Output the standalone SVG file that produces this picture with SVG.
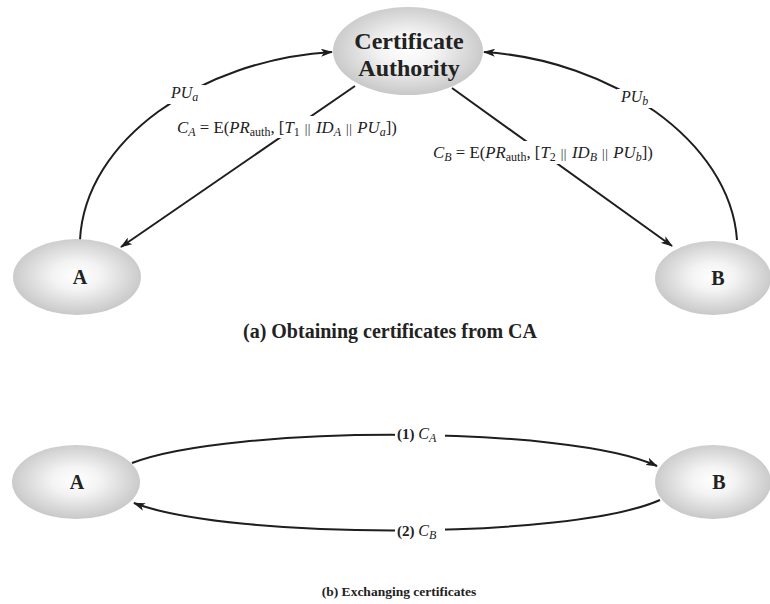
<svg xmlns="http://www.w3.org/2000/svg" width="770" height="604" viewBox="0 0 770 604">
<defs>
<radialGradient id="g" cx="50%" cy="48%" r="55%">
<stop offset="0" stop-color="#ffffff"/>
<stop offset="0.35" stop-color="#f3f3f3"/>
<stop offset="1" stop-color="#c4c4c4"/>
</radialGradient>
<marker id="ah" viewBox="0 0 12 8" refX="11" refY="4" markerWidth="12" markerHeight="8" markerUnits="userSpaceOnUse" orient="auto">
<path d="M0,0 L12,4 L0,8 L3,4 Z" fill="#1e1e1e"/>
</marker>
</defs>
<style>
.node{fill:url(#g);stroke:none}
.nt{font-family:"Liberation Serif","Times New Roman",serif;font-weight:bold;fill:#222;text-anchor:middle}
.ln{fill:none;stroke:#1e1e1e;stroke-width:2;marker-end:url(#ah)}
.lb{font-family:"Liberation Serif","Times New Roman",serif;font-size:16px;fill:#222}
.eq{font-size:16.8px}
.it{font-style:italic}
.s{font-size:12px}
.bar{font-size:13px;letter-spacing:0.5px}
.cap{font-family:"Liberation Serif","Times New Roman",serif;font-weight:bold;fill:#222;text-anchor:middle}
.bg{fill:#fff}
</style>
<rect width="770" height="604" fill="#fff"/>

<g id="connectors">
<path class="ln" d="M80,240 C85,140 200,60 332,52"/>
<path class="ln" d="M737,240 C730,140 610,60 484,52"/>
<path class="ln" d="M355,86 L121,247"/>
<path class="ln" d="M452,88 L672,246"/>
<path class="ln" d="M132,463 C230,425 570,425 657,466"/>
<path class="ln" d="M660,500 C570,540 230,540 134,503"/>
</g>

<g id="labels">
<rect class="bg" x="167" y="85" width="38" height="19"/>
<text class="lb" x="171" y="98"><tspan class="it">PU</tspan><tspan class="it s" dy="3">a</tspan></text>
<rect class="bg" x="617" y="89" width="42" height="19"/>
<text class="lb" x="621" y="102"><tspan class="it">PU</tspan><tspan class="it s" dy="3">b</tspan></text>

<rect class="bg" x="174" y="116" width="228" height="22"/>
<text class="lb eq" x="177" y="133"><tspan class="it">C</tspan><tspan class="it s" dy="3">A</tspan><tspan dy="-3"> = E(</tspan><tspan class="it">PR</tspan><tspan class="s" dy="3">auth</tspan><tspan dy="-3">, [</tspan><tspan class="it">T</tspan><tspan class="s" dy="3">1</tspan><tspan dy="-3" dx="5" class="bar">||</tspan><tspan dx="5" class="it">ID</tspan><tspan class="it s" dy="3">A</tspan><tspan dy="-3" dx="5" class="bar">||</tspan><tspan dx="5" class="it">PU</tspan><tspan class="it s" dy="3">a</tspan><tspan dy="-3">])</tspan></text>

<rect class="bg" x="430" y="141" width="228" height="23"/>
<text class="lb eq" x="433" y="158"><tspan class="it">C</tspan><tspan class="it s" dy="3">B</tspan><tspan dy="-3"> = E(</tspan><tspan class="it">PR</tspan><tspan class="s" dy="3">auth</tspan><tspan dy="-3">, [</tspan><tspan class="it">T</tspan><tspan class="s" dy="3">2</tspan><tspan dy="-3" dx="5" class="bar">||</tspan><tspan dx="5" class="it">ID</tspan><tspan class="it s" dy="3">B</tspan><tspan dy="-3" dx="5" class="bar">||</tspan><tspan dx="5" class="it">PU</tspan><tspan class="it s" dy="3">b</tspan><tspan dy="-3">])</tspan></text>

<rect class="bg" x="395" y="425" width="50" height="19"/>
<text class="lb" x="397" y="439"><tspan font-weight="bold" font-size="15">(1) </tspan><tspan class="it">C</tspan><tspan class="it s" dy="3">A</tspan></text>
<rect class="bg" x="395" y="521" width="50" height="19"/>
<text class="lb" x="397" y="536"><tspan font-weight="bold" font-size="15">(2) </tspan><tspan class="it">C</tspan><tspan class="it s" dy="3">B</tspan></text>
</g>

<g id="ca">
<ellipse class="node" cx="408" cy="51" rx="75" ry="44"/>
<text class="nt" x="409" y="49" font-size="24">Certificate</text>
<text class="nt" x="409" y="76" font-size="24">Authority</text>
</g>
<g id="a1">
<ellipse class="node" cx="77" cy="277" rx="64" ry="38"/>
<text class="nt" x="80" y="284" font-size="20">A</text>
</g>
<g id="b1">
<ellipse class="node" cx="713" cy="278" rx="58" ry="37"/>
<text class="nt" x="718" y="285" font-size="20">B</text>
</g>
<g id="a2">
<ellipse class="node" cx="76" cy="482" rx="64" ry="37"/>
<text class="nt" x="77" y="489" font-size="20">A</text>
</g>
<g id="b2">
<ellipse class="node" cx="713" cy="482" rx="58" ry="37"/>
<text class="nt" x="719" y="489" font-size="20">B</text>
</g>

<text class="cap" x="390" y="338" font-size="20">(a) Obtaining certificates from CA</text>
<text class="cap" x="399" y="596" font-size="13.5">(b) Exchanging certificates</text>
</svg>
